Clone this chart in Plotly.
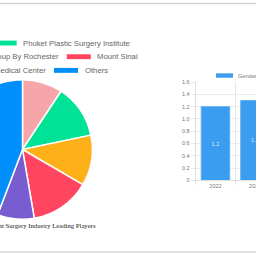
import plotly.graph_objects as go

# ---------------- data ----------------
pie_labels = ["Cleveland Clinic", "Phuket Plastic Surgery Institute",
              "Plastic Surgery Group By Rochester", "Mount Sinai",
              "Boston Medical Center", "Others"]
pie_values = [9.3, 12.4, 11.7, 13.9, 8.5, 44.2]
pie_colors = ["#F7A5A8", "#00E396", "#FEB019", "#FF4560", "#775DD0", "#008FFB"]

bar_years = ["2022", "2023"]
bar_values = [1.2, 1.3]
bar_name = "Gender Reassignment Surgery Industry Market Size"
y_ticks = [0, 0.2, 0.4, 0.6, 0.8, 1.0, 1.2, 1.4, 1.6]
y_ticktext = ["0", "0.2", "0.4", "0.6", "0.8", "1.0", "1.2", "1.4", "1.6"]

pie_title = "Gender Reassignment Surgery Industry Leading Players"

# ---------------- layout helpers ----------------
L, R, H = 80, 60, 256
W = L + 256 + R


def px(x):
    return (x + L) / W


def py(y):
    return 1 - y / H


fig = go.Figure()

cx, cy, rad = 22.5, 150, 71.5
fig.add_trace(go.Pie(
    labels=pie_labels, values=pie_values, sort=False, direction="clockwise",
    rotation=0, textinfo="none", hoverinfo="label+percent",
    marker=dict(colors=pie_colors, line=dict(color="white", width=1.5)),
    domain=dict(x=[px(cx - rad), px(cx + rad)], y=[py(cy + rad), py(cy - rad)]),
    showlegend=False,
))

fig.add_trace(go.Bar(
    x=bar_years, y=bar_values, name=bar_name,
    marker=dict(color="#3A9DEF", line=dict(color="#5AAEF3", width=1)),
    text=[f"{v:.1f}" for v in bar_values], textposition="inside",
    insidetextanchor="middle",
    textfont=dict(size=5.5, color="rgba(255,255,255,0.85)", family="Liberation Sans, Arial"),
    width=0.72, showlegend=False,
))

# legend for pie (manual, three rows of two)
legend_rows = [
    (-7.3, 1, 41), (66.8, 3, 55), (54.0, 5, 69),
]
left_items = [(0, 41), (2, 55), (4, 69)]
left_label_ends = {0: -17.0, 2: 60.5, 4: 47.5}

shapes = []
annotations = []
box_w, box_h = 24, 5
for bx, idx, ry in legend_rows:
    shapes.append(dict(type="rect", xref="paper", yref="paper",
                       x0=px(bx), x1=px(bx + box_w), y0=py(ry + box_h / 2), y1=py(ry - box_h / 2),
                       fillcolor=pie_colors[idx], line=dict(width=0)))
    annotations.append(dict(xref="paper", yref="paper", x=px(bx + box_w + 4.5), y=py(ry),
                            text=pie_labels[idx], showarrow=False, xanchor="left", yanchor="middle",
                            font=dict(size=7.7, color="#666666", family="Liberation Sans, Arial")))
for idx, ry in left_items:
    end = left_label_ends[idx]
    annotations.append(dict(xref="paper", yref="paper", x=px(end), y=py(ry),
                            text=pie_labels[idx], showarrow=False, xanchor="right", yanchor="middle",
                            font=dict(size=7.7, color="#666666", family="Liberation Sans, Arial")))

# pie title
annotations.append(dict(xref="paper", yref="paper", x=px(97.5), y=py(227.5),
                        text=pie_title, showarrow=False, xanchor="right", yanchor="middle",
                        font=dict(size=6.7, color="#222222", family="Liberation Serif, Times New Roman")))

# bar legend
shapes.append(dict(type="rect", xref="paper", yref="paper",
                   x0=px(216), x1=px(233), y0=py(76.5), y1=py(72),
                   fillcolor="#3A9DEF", line=dict(width=0)))
annotations.append(dict(xref="paper", yref="paper", x=px(235.5), y=py(74.3),
                        text=bar_name, showarrow=False, xanchor="left", yanchor="middle",
                        font=dict(size=5.6, color="#777777", family="Liberation Sans, Arial")))

# border lines top & bottom
shapes.append(dict(type="line", xref="paper", yref="paper", x0=0, x1=1, y0=py(0.5), y1=py(0.5),
                   line=dict(color="#D3D3D3", width=1.5)))
shapes.append(dict(type="line", xref="paper", yref="paper", x0=0, x1=1, y0=py(255), y1=py(255),
                   line=dict(color="#D8D8D8", width=1.5)))

x0_axis = 195.7
band = 39.5
fig.update_layout(
    width=W, height=H, margin=dict(l=0, r=0, t=0, b=0),
    paper_bgcolor="white", plot_bgcolor="white",
    shapes=shapes, annotations=annotations,
    xaxis=dict(domain=[px(x0_axis), px(x0_axis + 2 * band)], range=[-0.5, 1.5],
               type="category", tickson="boundaries", showgrid=True, gridcolor="#E8E8E8",
               gridwidth=1, ticks="outside", ticklen=4, tickcolor="#E8E8E8",
               tickfont=dict(size=5.5, color="#777777", family="Liberation Sans, Arial"),
               showline=True, linecolor="#E0E0E0", zeroline=False, fixedrange=True),
    yaxis=dict(domain=[py(181.7), py(81)], range=[0, 1.6], tickvals=y_ticks, ticktext=y_ticktext,
               showgrid=True, gridcolor="#EDEDED", gridwidth=1, ticks="outside", ticklen=4,
               tickcolor="#E8E8E8", tickfont=dict(size=5.5, color="#777777", family="Liberation Sans, Arial"),
               showline=True, linecolor="#E0E0E0", zeroline=False, fixedrange=True),
    bargap=0.28,
)

post = ("var gd=document.getElementById('{plot_id}');"
        "document.body.style.margin='0';document.body.style.overflow='hidden';"
        "document.documentElement.style.overflow='hidden';"
        "gd.style.position='absolute';gd.style.left='-%dpx';gd.style.top='0px';" % L)

fig.write_html("out.html", config=dict(displayModeBar=False), post_script=post)
